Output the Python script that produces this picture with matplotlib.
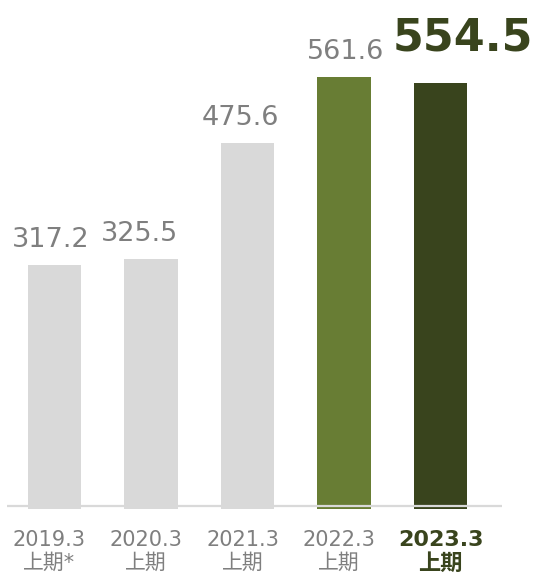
import matplotlib.pyplot as plt
import matplotlib.transforms as mtransforms

# half-year sales figures
periods = ['2019.3\n上期*', '2020.3\n上期', '2021.3\n上期', '2022.3\n上期', '2023.3\n上期']
values = [317.2, 325.5, 475.6, 561.6, 554.5]
bar_colors = ['#d9d9d9', '#d9d9d9', '#d9d9d9', '#687d34', '#39441d']

GRAY_TEXT = '#7f7f7f'
DARK = '#39441d'
FONTS = ['DejaVu Sans', 'Noto Sans CJK JP']

plt.rcParams['font.family'] = FONTS

fig = plt.figure(figsize=(5.37, 5.77), dpi=100)
ax = fig.add_axes([7 / 537, 68 / 577, 495 / 537, 509 / 577])

x = list(range(len(values)))
ax.bar(x, values, width=0.55, color=bar_colors, zorder=2)
ax.set_xlim(-0.492, 4.637)
ax.set_ylim(0, 662)

# thin baseline drawn over the bar feet
ax.axhline(4.5, color='#d9d9d9', lw=1.6, zorder=3)

# value labels, small nudges to follow the original layout
nudges = [-2.5, -8.3, -5, 1.4, 16]
for i, v in enumerate(values):
    last = i == len(values) - 1
    ax.annotate(f'{v:.1f}', (i, v), xytext=(nudges[i], 23 if last else 13),
                textcoords='offset points', ha='center', va='baseline',
                fontsize=32 if last else 19.5,
                fontweight='bold' if last else 'normal',
                color=DARK if last else GRAY_TEXT)

ax.set_xticks(x)
ax.set_xticklabels(periods, fontsize=15, color=GRAY_TEXT, linespacing=1.2)
ax.tick_params(axis='x', length=0, pad=15)
ax.set_yticks([])
for s in ax.spines.values():
    s.set_visible(False)

labels = ax.get_xticklabels()
shift = mtransforms.ScaledTranslation(-5 / 100, 0, fig.dpi_scale_trans)
for lab in labels[:-1]:
    lab.set_transform(lab.get_transform() + shift)
labels[-1].set_fontweight('bold')
labels[-1].set_color(DARK)
labels[-1].set_fontsize(16)

fig.savefig('out.png', dpi=100)
